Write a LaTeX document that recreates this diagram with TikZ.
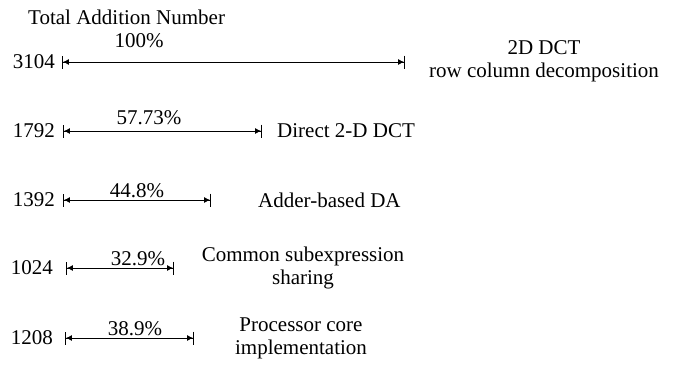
\documentclass[tikz,border=0pt]{standalone}
\usepackage{fontspec}
\setmainfont{Liberation Serif}
\newfontfamily\labelfont{Liberation Serif}
\usetikzlibrary{arrows.meta}

\begin{document}
\begin{tikzpicture}[x=1pt,y=-1pt,font=\labelfont\fontsize{21}{23}\selectfont]
            \tikzstyle{every node}+=[inner sep=0pt]
            \tikzstyle{span}=[line width=0.9pt,
              {Bar[width=13pt,line width=0.9pt]Latex[length=6pt,width=6pt]}-{Latex[length=6pt,width=6pt]Bar[width=13pt,line width=0.9pt]}]
            \useasboundingbox (0,0) rectangle (674,365);
            \node [anchor=base west] (title) at (28,24) {Total Addition Number};
            % 2D DCT, row column decomposition
            \node [anchor=east] (n1) at (55,62) {3104};
            \coordinate (a1) at (62,62);
            \coordinate (b1) at (405,62);
            \draw [span] (a1) -- (b1);
            \node [anchor=base] (p1) at (139,47) {100\%};
            \node [anchor=base,align=center] (t1) at (544,77) {2D DCT\\row column decomposition};
            % direct 2-D DCT
            \node [anchor=east] (n2) at (55,131) {1792};
            \coordinate (a2) at (63,131);
            \coordinate (b2) at (262,131);
            \draw [span] (a2) -- (b2);
            \node [anchor=base] (p2) at (149,124) {57.73\%};
            \node [anchor=west] (t2) at (277,131) {Direct 2-D DCT};
            % adder-based DA
            \node [anchor=east] (n3) at (55,200) {1392};
            \coordinate (a3) at (63,200);
            \coordinate (b3) at (211,200);
            \draw [span] (a3) -- (b3);
            \node [anchor=base] (p3) at (137,197) {44.8\%};
            \node [anchor=west] (t3) at (258,200) {Adder-based DA};
            % common subexpression sharing
            \node [anchor=east] (n4) at (53,268) {1024};
            \coordinate (a4) at (66,268);
            \coordinate (b4) at (174,268);
            \draw [span] (a4) -- (b4);
            \node [anchor=base] (p4) at (138,265) {32.9\%};
            \node [anchor=base,align=center] (t4) at (303,284) {Common subexpression\\sharing};
            % processor core
            \node [anchor=east] (n5) at (53,338) {1208};
            \coordinate (a5) at (65,338);
            \coordinate (b5) at (194,338);
            \draw [span] (a5) -- (b5);
            \node [anchor=base] (p5) at (135,335) {38.9\%};
            \node [anchor=base,align=center] (t5) at (301,354) {Processor core\\implementation};
        \end{tikzpicture}
\end{document}
